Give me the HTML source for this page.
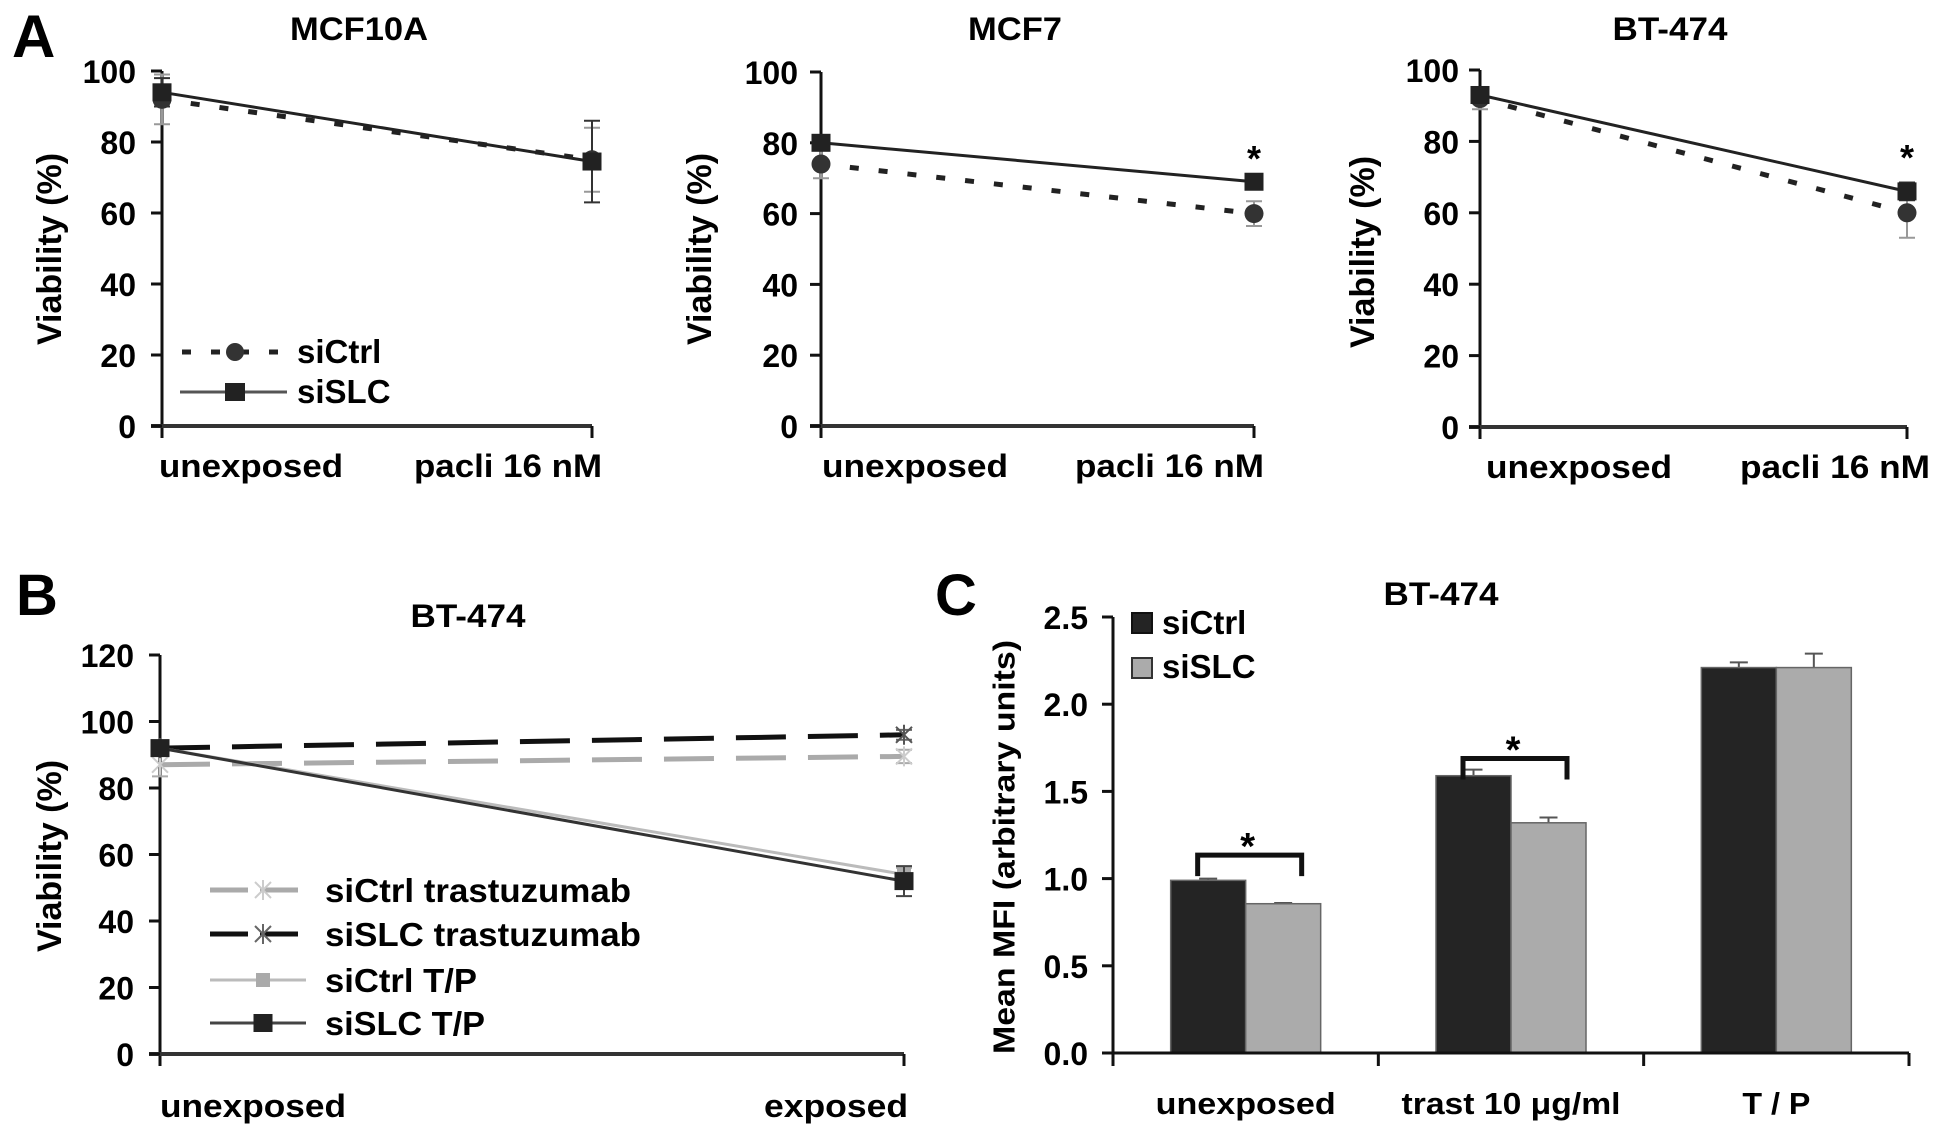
<!DOCTYPE html>
<html><head><meta charset="utf-8"><style>
html,body{margin:0;padding:0;background:#fff;}
svg{display:block;font-family:"Liberation Sans",Arial,sans-serif;font-weight:bold;}
</style></head><body>
<svg id="fig" xmlns="http://www.w3.org/2000/svg" width="1940" height="1141" viewBox="0 0 1940 1141">
<rect width="1940" height="1141" fill="#fff"/>
<text x="12" y="57" font-size="60">A</text>
<text x="16" y="615" font-size="58">B</text>
<text x="935" y="615" font-size="58">C</text>
</svg>
<script>
// ---- Panel A data ----
const aCategories = ['unexposed', 'pacli 16 nM'];
const aYTicks = [0, 20, 40, 60, 80, 100];
const mcf10aCtrl = [92, 75];
const mcf10aCtrlErr = [7, 9];
const mcf10aSlc = [94, 74.5];
const mcf10aSlcErr = [4, 11.5];
const mcf7Ctrl = [74, 60];
const mcf7CtrlErr = [4, 3.5];
const mcf7Slc = [80, 69];
const mcf7SlcErr = [1.5, 1.5];
const bt474Ctrl = [92, 60];
const bt474CtrlErr = [3, 7];
const bt474Slc = [93, 66];
const bt474SlcErr = [2, 2.5];
// ---- Panel B data ----
const bCategories = ['unexposed', 'exposed'];
const bYTicks = [0, 20, 40, 60, 80, 100, 120];
const bCtrlTrast = [87, 89.5];
const bCtrlTrastErr = [3.5, 2];
const bSlcTrast = [92, 96];
const bSlcTrastErr = [1, 1.5];
const bCtrlTP = [92, 54];
const bCtrlTPErr = [1, 2];
const bSlcTP = [92, 52];
const bSlcTPErr = [1, 4.5];
// ---- Panel C data ----
const cCategories = ['unexposed', 'trast 10 \u03bcg/ml', 'T / P'];
const cYTicks = [0, 0.5, 1.0, 1.5, 2.0, 2.5];
const cCtrl = [0.99, 1.59, 2.21];
const cCtrlErr = [0.01, 0.035, 0.03];
const cSlc = [0.856, 1.32, 2.21];
const cSlcErr = [0.004, 0.03, 0.08];

const NS = 'http://www.w3.org/2000/svg';
const svg = document.getElementById('fig');
function mk(tag, attrs, parent, txt) {
  const e = document.createElementNS(NS, tag);
  for (const k in attrs) e.setAttribute(k, attrs[k]);
  if (txt !== undefined) e.textContent = txt;
  (parent || svg).appendChild(e);
  return e;
}
function grp(name) {
  const g = mk('g', {});
  
  
  return g;
}

function linePanel(p) {
  const g = grp(p.name);
  const yS = v => p.yBot - v / p.max * (p.yBot - p.yTop);
  const xS = i => p.x0 + i * (p.x1 - p.x0);
  const t = mk('text', {x: p.titleX, y: p.titleY, 'font-size': 32, 'text-anchor': 'middle', textLength: p.titleW, lengthAdjust: 'spacingAndGlyphs'}, g, p.title);
  
  
  const ya = mk('line', {x1: p.x0, y1: p.yTop, x2: p.x0, y2: p.yBot + 12, stroke: '#111', 'stroke-width': 3}, g);
  
  
  const xa = mk('line', {x1: p.x0 - 11, y1: p.yBot, x2: p.x1, y2: p.yBot, stroke: '#333', 'stroke-width': 4}, g);
  
  
  const rt = mk('line', {x1: p.x1, y1: p.yBot, x2: p.x1, y2: p.yBot + 12, stroke: '#111', 'stroke-width': 3}, g);
  
  
  p.ticks.forEach(v => {
    const y = yS(v);
    const tk = mk('line', {x1: p.x0 - 11, y1: y, x2: p.x0, y2: y, stroke: '#111', 'stroke-width': 3}, g);
    
    
    const tl = mk('text', {x: p.labelRight, y: y + 12, 'font-size': 32, 'text-anchor': 'end'}, g, String(v));
    
    
  });
  const yt = mk('text', {x: 0, y: 0, 'font-size': 34, 'text-anchor': 'middle', 'dominant-baseline': 'central',
    transform: `translate(${p.yLabelX},${p.yLabelY}) rotate(-90)`}, g, 'Viability (%)');
  
  
  p.cats.forEach((c, i) => {
    const xl = mk('text', {x: p.xLabels[i][0], y: p.xLabelY, 'font-size': 32, textLength: p.xLabels[i][1], lengthAdjust: 'spacingAndGlyphs'}, g, c);
    
    
  });
  p.series.forEach(s => {
    const sg = mk('g', {}, g);
    
    
    s.vals.forEach((v, i) => {
      const x = xS(i), e = s.err[i];
      const eb = mk('path', {d: `M${x},${yS(v - e)}V${yS(v + e)}M${x - 8},${yS(v - e)}h16M${x - 8},${yS(v + e)}h16`,
        stroke: s.errColor, 'stroke-width': 2, fill: 'none'}, sg);
      
      
    });
    const d = s.vals.map((v, i) => (i ? 'L' : 'M') + xS(i) + ',' + yS(v)).join('');
    const ln = mk('path', {d, stroke: s.color, 'stroke-width': s.width, fill: 'none', 'stroke-dasharray': s.dash || 'none'}, sg);
    
    
    s.vals.forEach((v, i) => drawMarker(sg, s.marker, xS(i), yS(v), s.mColor));
  });
  if (p.stars) p.stars.forEach(st => {
    const sx = mk('text', {x: xS(st.i), y: yS(st.v), 'font-size': 36, 'text-anchor': 'middle'}, g, '*');
    
    
  });
  return {g, xS, yS};
}

function drawMarker(parent, type, x, y, color) {
  let m;
  if (type === 'circle') m = mk('circle', {cx: x, cy: y, r: 9.5, fill: color}, parent);
  else if (type === 'square') m = mk('rect', {x: x - 9.5, y: y - 9, width: 19, height: 18, fill: color}, parent);
  else if (type === 'smallsquare') m = mk('rect', {x: x - 7, y: y - 7, width: 14, height: 14, fill: color}, parent);
  else m = mk('path', {d: `M${x - 8},${y - 8}L${x + 8},${y + 8}M${x - 8},${y + 8}L${x + 8},${y - 8}M${x},${y - 10}V${y + 10}`, stroke: color, 'stroke-width': 2, fill: 'none'}, parent);
  
  
}

function aSeries(ctrl, ctrlErr, slc, slcErr) {
  return [
    {name: 'series-sictrl', vals: ctrl, err: ctrlErr, color: '#222', width: 5, dash: '9 20', marker: 'circle', mColor: '#333', errColor: '#999'},
    {name: 'series-sislc', vals: slc, err: slcErr, color: '#222', width: 3, marker: 'square', mColor: '#222', errColor: '#333'}
  ];
}

linePanel({name: 'panel-a-mcf10a', title: 'MCF10A', titleX: 359, titleY: 40, titleW: 138, x0: 162, x1: 592, yTop: 71, yBot: 426, max: 100,
  ticks: aYTicks, labelRight: 136, yLabelX: 50, yLabelY: 249, cats: aCategories, xLabels: [[159, 184], [414, 188]], xLabelY: 477,
  series: aSeries(mcf10aCtrl, mcf10aCtrlErr, mcf10aSlc, mcf10aSlcErr)});
linePanel({name: 'panel-a-mcf7', title: 'MCF7', titleX: 1015, titleY: 40, titleW: 94, x0: 821, x1: 1254, yTop: 72, yBot: 426, max: 100,
  ticks: aYTicks, labelRight: 798, yLabelX: 700, yLabelY: 249, cats: aCategories, xLabels: [[822, 186], [1075, 189]], xLabelY: 477,
  series: aSeries(mcf7Ctrl, mcf7CtrlErr, mcf7Slc, mcf7SlcErr), stars: [{i: 1, v: 72}]});
linePanel({name: 'panel-a-bt474', title: 'BT-474', titleX: 1670, titleY: 40, titleW: 115, x0: 1480, x1: 1907, yTop: 70, yBot: 427, max: 100,
  ticks: aYTicks, labelRight: 1459, yLabelX: 1363, yLabelY: 252, cats: aCategories, xLabels: [[1486, 186], [1740, 190]], xLabelY: 478,
  series: aSeries(bt474Ctrl, bt474CtrlErr, bt474Slc, bt474SlcErr), stars: [{i: 1, v: 72}]});

(function () {
  const g = grp('legend-a');
  mk('line', {x1: 182, y1: 352, x2: 290, y2: 352, stroke: '#222', 'stroke-width': 5, 'stroke-dasharray': '9 20'}, g);
  mk('circle', {cx: 235, cy: 352, r: 9, fill: '#333'}, g);
  mk('text', {x: 297, y: 363, 'font-size': 33}, g, 'siCtrl');
  mk('line', {x1: 180, y1: 392, x2: 287, y2: 392, stroke: '#555', 'stroke-width': 3}, g);
  mk('rect', {x: 225, y: 383, width: 20, height: 18, fill: '#222'}, g);
  mk('text', {x: 297, y: 403, 'font-size': 33}, g, 'siSLC');
})();

linePanel({name: 'panel-b-bt474', title: 'BT-474', titleX: 468, titleY: 627, titleW: 115, x0: 160, x1: 904, yTop: 655, yBot: 1054, max: 120,
  ticks: bYTicks, labelRight: 134, yLabelX: 50, yLabelY: 856, cats: bCategories, xLabels: [[160, 186], [764, 144]], xLabelY: 1117,
  series: [
    {name: 'series-sictrl-trastuzumab', vals: bCtrlTrast, err: bCtrlTrastErr, color: '#aaa', width: 5, dash: '50 22', marker: 'asterisk', mColor: '#ccc', errColor: '#aaa'},
    {name: 'series-sislc-trastuzumab', vals: bSlcTrast, err: bSlcTrastErr, color: '#111', width: 5, dash: '50 22', marker: 'asterisk', mColor: '#555', errColor: '#666'},
    {name: 'series-sictrl-tp', vals: bCtrlTP, err: bCtrlTPErr, color: '#bbb', width: 3, marker: 'smallsquare', mColor: '#aaa', errColor: '#aaa'},
    {name: 'series-sislc-tp', vals: bSlcTP, err: bSlcTPErr, color: '#333', width: 3, marker: 'square', mColor: '#222', errColor: '#444'}
  ]});
(function () {
  const g = grp('legend-b');
  const rows = [[890, '#aaa', 5, '50 22', 'asterisk', '#ccc', 'siCtrl trastuzumab', 306],
    [934, '#111', 5, '50 22', 'asterisk', '#666', 'siSLC trastuzumab', 316],
    [980, '#bbb', 3, 'none', 'smallsquare', '#aaa', 'siCtrl T/P', 152],
    [1023, '#444', 3, 'none', 'square', '#222', 'siSLC T/P', 160]];
  rows.forEach(r => {
    mk('line', {x1: 210, y1: r[0], x2: 306, y2: r[0], stroke: r[1], 'stroke-width': r[2], 'stroke-dasharray': r[3] === 'none' ? 'none' : '38 12'}, g);
    drawMarker(g, r[4], 263, r[0], r[5]);
    mk('text', {x: 325, y: r[0] + 12, 'font-size': 33, textLength: r[7], lengthAdjust: 'spacingAndGlyphs'}, g, r[6]);
  });
})();

(function () {
  const g = grp('panel-c-bar-chart');
  const x0 = 1113, x1 = 1909, yTop = 617, yBot = 1053, max = 2.5;
  const yS = v => yBot - v / max * (yBot - yTop);
  const band = (x1 - x0) / cCategories.length;
  const bw = 75;
  const t = mk('text', {x: 1441, y: 605, 'font-size': 32, 'text-anchor': 'middle', textLength: 115, lengthAdjust: 'spacingAndGlyphs'}, g, 'BT-474');
  
  
  cYTicks.forEach(v => {
    const y = yS(v);
    const tk = mk('line', {x1: x0 - 11, y1: y, x2: x0, y2: y, stroke: '#111', 'stroke-width': 3}, g);
    
    
    const tl = mk('text', {x: 1088, y: y + 12, 'font-size': 32, 'text-anchor': 'end'}, g, v.toFixed(1));
    
    
  });
  const yt = mk('text', {x: 0, y: 0, 'font-size': 31, 'text-anchor': 'middle', 'dominant-baseline': 'central',
    transform: 'translate(1004,847) rotate(-90)', textLength: 414, lengthAdjust: 'spacingAndGlyphs'}, g, 'Mean MFI (arbitrary units)');
  
  
  const xlw = [180, 219, 68];
  cCategories.forEach((c, i) => {
    const cx = x0 + band * (i + 0.5);
    [[cCtrl, cCtrlErr, '#242424', -1, 'bar-sictrl'], [cSlc, cSlcErr, '#ababab', 0, 'bar-sislc']].forEach(s => {
      const v = s[0][i], bx = cx + s[3] * bw;
      const er = mk('path', {d: `M${bx + bw / 2},${yS(v)}V${yS(v + s[1][i])}M${bx + bw / 2 - 9},${yS(v + s[1][i])}h18`, stroke: '#555', 'stroke-width': 2, fill: 'none'}, g);
      
      
      const b = mk('rect', {x: bx, y: yS(v), width: bw, height: yBot - yS(v), fill: s[2], stroke: '#666', 'stroke-width': 1.5}, g);
      
      
    });
    const xl = mk('text', {x: cx, y: 1114, 'font-size': 31, 'text-anchor': 'middle', textLength: xlw[i], lengthAdjust: 'spacingAndGlyphs'}, g, c);
    
    
  });
  const ya = mk('line', {x1: x0, y1: yTop, x2: x0, y2: yBot + 13, stroke: '#111', 'stroke-width': 3}, g);
  
  
  const xa = mk('line', {x1: x0 - 11, y1: yBot, x2: x1, y2: yBot, stroke: '#111', 'stroke-width': 3}, g);
  
  
  for (let i = 1; i <= cCategories.length; i++) {
    const tk = mk('line', {x1: x0 + band * i, y1: yBot, x2: x0 + band * i, y2: yBot + 13, stroke: '#111', 'stroke-width': 3}, g);
    
    
  }
  [0, 1].forEach(i => {
    const cx = x0 + band * (i + 0.5);
    const top = yS(Math.max(cCtrl[i], cSlc[i]) + 0.5) + (i === 0 ? 62 : 70);
    const br = mk('path', {d: `M${cx - 48},${top + 21}V${top}H${cx + 56}V${top + 21}`, stroke: '#111', 'stroke-width': 5, fill: 'none'}, g);
    
    
    const st = mk('text', {x: cx + 2, y: top + 4, 'font-size': 38, 'text-anchor': 'middle'}, g, '*');
    
    
  });
  const lg = mk('g', {}, g);
  
  
  mk('rect', {x: 1132, y: 613, width: 20, height: 20, fill: '#242424', stroke: '#111', 'stroke-width': 2}, lg);
  mk('text', {x: 1162, y: 634, 'font-size': 33}, lg, 'siCtrl');
  mk('rect', {x: 1132, y: 658, width: 20, height: 20, fill: '#ababab', stroke: '#333', 'stroke-width': 2}, lg);
  mk('text', {x: 1162, y: 678, 'font-size': 33}, lg, 'siSLC');
})();
</script>
</body></html>
